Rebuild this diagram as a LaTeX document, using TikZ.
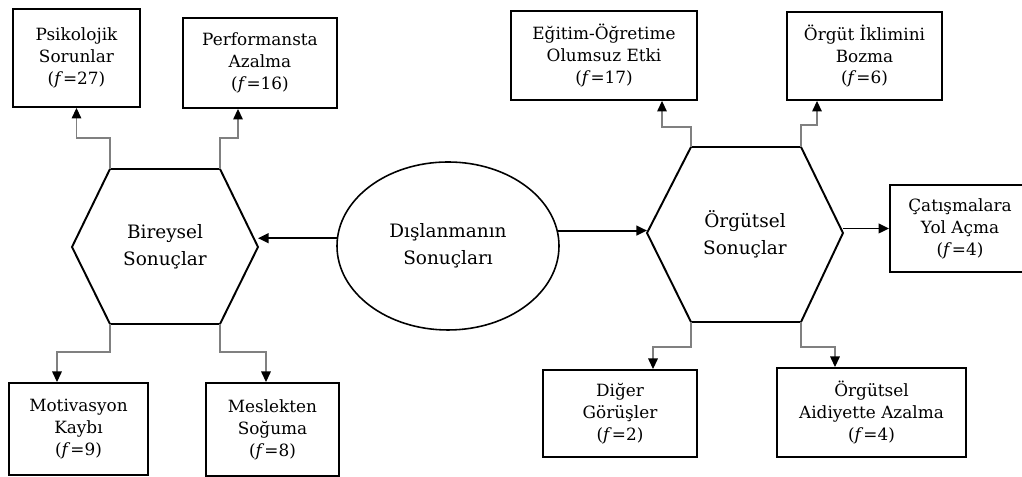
\documentclass[tikz,border=0pt]{standalone}
\usepackage{fontspec}
\setmainfont{DejaVu Serif}
\usepackage{tikz}
\usetikzlibrary{positioning,arrows.meta,shapes.geometric,calc}
\tikzset{
    result box/.style={rectangle, draw, line width=1.1pt, align=center, inner sep=2pt, font=\fontsize{9.6}{12.5}\selectfont},
    group label/.style={align=center, font=\fontsize{10.5}{15.5}\selectfont},
    center ellipse/.style={ellipse, draw, line width=0.9pt, minimum width=4.44cm, minimum height=3.36cm, align=center, font=\fontsize{10.5}{15.5}\selectfont},
    hex border/.style={line width=1.1pt, line join=miter},
    branch connection/.style={-{Triangle[width=5.5pt,length=6pt,color=black]}, draw=black!50, line width=0.6pt},
    main connection/.style={-{Triangle[width=5.5pt,length=6pt]}, line width=1.1pt}
}

\begin{document}
\begin{tikzpicture}
    \useasboundingbox (0,0) rectangle (20.44,9.54);

    % Central ellipse
    \node[center ellipse] (dis) at (8.96,4.62) {Dışlanmanın\\Sonuçları};

    % Left hexagon - individual results
    \coordinate (bir-nw) at (2.20,6.16);
    \coordinate (bir-ne) at (4.40,6.16);
    \coordinate (bir-e) at (5.16,4.60);
    \coordinate (bir-se) at (4.40,3.06);
    \coordinate (bir-sw) at (2.20,3.06);
    \coordinate (bir-w) at (1.44,4.60);
    \draw[hex border] (bir-nw) -- (bir-ne) -- (bir-e) -- (bir-se) -- (bir-sw) -- (bir-w) -- cycle;
    \node[group label] (bir) at (3.30,4.60) {Bireysel\\Sonuçlar};

    % Right hexagon - organisational results
    \coordinate (org-nw) at (13.82,6.60);
    \coordinate (org-ne) at (16.02,6.60);
    \coordinate (org-e) at (16.86,4.88);
    \coordinate (org-se) at (16.02,3.10);
    \coordinate (org-sw) at (13.82,3.10);
    \coordinate (org-w) at (12.94,4.88);
    \draw[hex border] (org-nw) -- (org-ne) -- (org-e) -- (org-se) -- (org-sw) -- (org-w) -- cycle;
    \node[group label] (org) at (14.90,4.86) {Örgütsel\\Sonuçlar};

    % Result boxes
    \node[result box, minimum width=2.54cm, minimum height=1.96cm] (psi) at (1.53,8.38) {Psikolojik\\Sorunlar\\(\textit{f}=27)};
    \node[result box, minimum width=3.08cm, minimum height=1.80cm] (perf) at (5.20,8.28) {Performansta\\Azalma\\(\textit{f}=16)};
    \node[result box, minimum width=2.78cm, minimum height=1.84cm] (mot) at (1.57,0.96) {Motivasyon\\Kaybı\\(\textit{f}=9)};
    \node[result box, minimum width=2.66cm, minimum height=1.86cm] (mes) at (5.45,0.95) {Meslekten\\Soğuma\\(\textit{f}=8)};
    \node[result box, minimum width=3.72cm, minimum height=1.78cm] (egi) at (12.08,8.43) {Eğitim-Öğretime\\Olumsuz Etki\\(\textit{f}=17)};
    \node[result box, minimum width=3.10cm, minimum height=1.76cm] (ikl) at (17.29,8.42) {Örgüt İklimini\\Bozma\\(\textit{f}=6)};
    \node[result box, minimum width=2.80cm, minimum height=1.74cm] (cat) at (19.20,4.97) {Çatışmalara\\Yol Açma\\(\textit{f}=4)};
    \node[result box, minimum width=3.08cm, minimum height=1.74cm] (dig) at (12.40,1.27) {Diğer\\Görüşler\\(\textit{f}=2)};
    \node[result box, minimum width=3.78cm, minimum height=1.78cm] (aid) at (17.43,1.29) {Örgütsel\\Aidiyette Azalma\\(\textit{f}=4)};

    % Main arrows from the ellipse
    \draw[main connection] (dis.176) -- (dis.176 -| bir-e);
    \draw[main connection] (dis.8) -- (dis.8 -| org-w);

    % Branches of the left hexagon
    \draw[branch connection] (bir-nw) -- ++(0,0.62) -| (psi);
    \draw[branch connection] (bir-ne) -- ++(0,0.62) -| ([xshift=-0.44cm]perf.south);
    \draw[branch connection] (bir-sw) -- ++(0,-0.56) -| ([xshift=-0.43cm]mot.north);
    \draw[branch connection] (bir-se) -- ++(0,-0.56) -| ([xshift=-0.13cm]mes.north);

    % Branches of the right hexagon
    \draw[branch connection] (org-nw) -- ++(0,0.40) -| ([xshift=1.16cm]egi.south);
    \draw[branch connection] (org-ne) -- ++(0,0.44) -| ([xshift=-0.95cm]ikl.south);
    \draw[main connection] (cat.west -| org-e) -- (cat.west);
    \draw[branch connection] (org-sw) -- ++(0,-0.50) -| ([xshift=0.66cm]dig.north);
    \draw[branch connection] (org-se) -- ++(0,-0.50) -| ([xshift=-0.73cm]aid.north);
\end{tikzpicture}
\end{document}
